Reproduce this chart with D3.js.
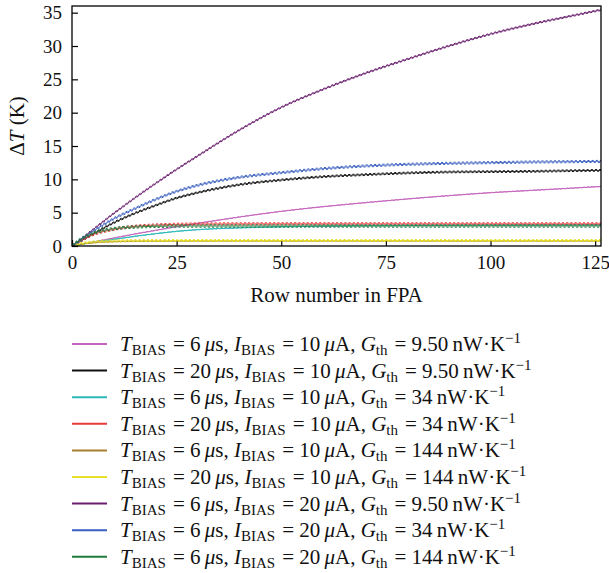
<!DOCTYPE html>
<html>
<head>
<meta charset="utf-8">
<script src="https://cdn.jsdelivr.net/npm/d3@7/dist/d3.min.js"></script>
<style>
  html, body { margin: 0; padding: 0; background: #fff; }
  svg { display: block; }
</style>
</head>
<body>
<svg id="chart" width="609" height="573"></svg>
<script>
// Row positions at which each ΔT curve is sampled
const rows = [0, 2, 5, 10, 15, 20, 25, 30, 40, 50, 60, 70, 80, 90, 100, 110, 120, 127];

// ΔT (K) per series, one entry per row above
const dtPink   = [0, 0.25, 0.6, 1.2, 1.8, 2.35, 2.9, 3.4, 4.35, 5.2, 5.9, 6.5, 7.05, 7.55, 8.0, 8.35, 8.7, 8.95];
const dtBlack  = [0, 0.7, 1.8, 3.5, 4.9, 6.1, 7.2, 8.0, 9.2, 9.9, 10.4, 10.7, 10.95, 11.1, 11.15, 11.2, 11.3, 11.35];
const dtCyan   = [0, 0.22, 0.55, 1.0, 1.45, 1.85, 2.2, 2.45, 2.72, 2.88, 2.98, 3.04, 3.08, 3.1, 3.12, 3.14, 3.15, 3.16];
const dtRed    = [0, 0.8, 1.7, 2.5, 2.95, 3.15, 3.25, 3.3, 3.32, 3.33, 3.33, 3.33, 3.33, 3.33, 3.33, 3.33, 3.33, 3.33];
const dtBrown  = [0, 0.25, 0.48, 0.65, 0.71, 0.73, 0.74, 0.75, 0.75, 0.75, 0.75, 0.75, 0.75, 0.75, 0.75, 0.75, 0.75, 0.75];
const dtYellow = [0, 0.35, 0.6, 0.76, 0.8, 0.82, 0.82, 0.82, 0.82, 0.82, 0.82, 0.82, 0.82, 0.82, 0.82, 0.82, 0.82, 0.82];
const dtPurple = [0, 0.95, 2.45, 4.9, 7.2, 9.4, 11.5, 13.5, 17.4, 20.8, 23.5, 25.9, 28.0, 30.0, 31.8, 33.3, 34.6, 35.5];
const dtBlue   = [0, 0.9, 2.2, 4.1, 5.6, 7.0, 8.2, 9.1, 10.3, 11.0, 11.6, 12.0, 12.25, 12.4, 12.5, 12.6, 12.65, 12.7];
const dtGreen  = [0, 1.0, 1.9, 2.6, 2.85, 2.95, 3.0, 3.0, 3.0, 3.0, 3.0, 3.0, 3.0, 3.0, 3.0, 3.0, 3.0, 3.0];

// Row-to-row heating/cooling swing (K, peak to peak) of each series
const ripple = [0.06, 0.25, 0.06, 0.32, 0.08, 0.28, 0.22, 0.3, 0.36];

// Legend parameters
const tBias = [6, 20, 6, 20, 6, 20, 6, 6, 6];
const iBias = [10, 10, 10, 10, 10, 10, 20, 20, 20];
const gTh   = ["9.50", "9.50", "34", "34", "144", "144", "9.50", "34", "144"];

const colors = ["#c465bd", "#111111", "#2bb8b8", "#e83a3a", "#a8802e", "#e6e02a", "#6a1f6e", "#3a5fc0", "#1f7b3b"];
const seriesValues = [dtPink, dtBlack, dtCyan, dtRed, dtBrown, dtYellow, dtPurple, dtBlue, dtGreen];

const xTicks = [0, 25, 50, 75, 100, 125];
const yTicks = [0, 5, 10, 15, 20, 25, 30, 35];

// Pick the first serif face that is actually installed
function pickFont(candidates) {
  const ctx = document.createElement("canvas").getContext("2d");
  const probe = "mmmmmmmmmmlliWWQ0123456789";
  const widthOf = f => { ctx.font = `40px ${f}`; return ctx.measureText(probe).width; };
  const baseMono = widthOf("monospace"), baseSans = widthOf("sans-serif");
  for (const c of candidates) {
    const q = `"${c}"`;
    if (widthOf(`${q}, monospace`) !== baseMono || widthOf(`${q}, sans-serif`) !== baseSans) return q;
  }
  return "serif";
}
const FONT = pickFont(["Liberation Serif", "Times New Roman", "Tinos", "DejaVu Serif", "Noto Serif", "FreeSerif"]);

const svg = d3.select("#chart").style("font-family", FONT);
const plot = { left: 72, right: 601, top: 6, bottom: 246 };

const x = d3.scaleLinear().domain([0, 126.4]).range([plot.left, plot.right]);
const y = d3.scaleLinear().domain([0, 36]).range([plot.bottom, plot.top]);

// Axes with inward ticks
const xAxis = svg.append("g")
  .attr("transform", `translate(0,${plot.bottom})`)
  .call(d3.axisBottom(x).tickValues(xTicks).tickSize(-6).tickPadding(10).tickFormat(d3.format("d")));
const yAxis = svg.append("g")
  .attr("transform", `translate(${plot.left},0)`)
  .call(d3.axisLeft(y).tickValues(yTicks).tickSize(-6).tickPadding(10).tickFormat(d3.format("d")));

[xAxis, yAxis].forEach(g => {
  g.attr("font-family", null).attr("font-size", null);
  g.select(".domain").remove();
  g.selectAll(".tick line").attr("stroke", "#000").attr("stroke-width", 1.2);
  g.selectAll(".tick text")
    .style("font-family", FONT)
    .attr("font-size", 19)
    .attr("fill", "#111");
});

// Curves
svg.append("clipPath").attr("id", "plotClip")
  .append("rect")
  .attr("x", plot.left).attr("y", plot.top - 2)
  .attr("width", plot.right - plot.left).attr("height", plot.bottom - plot.top + 2);

const line = d3.line()
  .x(d => x(d[0]))
  .y(d => y(d[1]))
  .curve(d3.curveMonotoneX);

const period = x(1) - x(0); // one row in pixels
const curves = svg.append("g").attr("clip-path", "url(#plotClip)");

seriesValues.forEach((vals, i) => {
  const pts = rows.map((r, k) => [r, vals[k]]);
  const d = line(pts);
  const swing = (y(0) - y(ripple[i])) / 2;
  const g = curves.append("g");
  g.append("path")
    .attr("d", d)
    .attr("fill", "none")
    .attr("stroke", colors[i])
    .attr("stroke-width", 0.9);
  // upper and lower halves of each row's swing
  [-1, 1].forEach((s, j) => {
    g.append("path")
      .attr("d", d)
      .attr("transform", `translate(0,${s * swing})`)
      .attr("fill", "none")
      .attr("stroke", colors[i])
      .attr("stroke-width", 1)
      .attr("stroke-dasharray", `${period / 2} ${period / 2}`)
      .attr("stroke-dashoffset", j * period / 2);
  });
});

// Frame
svg.append("rect")
  .attr("x", plot.left).attr("y", plot.top)
  .attr("width", plot.right - plot.left).attr("height", plot.bottom - plot.top)
  .attr("fill", "none").attr("stroke", "#000").attr("stroke-width", 1.3);

// Axis titles
svg.append("text")
  .attr("x", (plot.left + plot.right) / 2).attr("y", 302)
  .attr("text-anchor", "middle")
  .attr("font-size", 21)
  .attr("fill", "#111")
  .text("Row number in FPA");

const yTitle = svg.append("text")
  .attr("transform", `translate(24,${(plot.top + plot.bottom) / 2}) rotate(-90)`)
  .attr("text-anchor", "middle")
  .attr("font-size", 21)
  .attr("fill", "#111");
yTitle.append("tspan").text("Δ");
yTitle.append("tspan").attr("font-style", "italic").text("T");
yTitle.append("tspan").text(" (K)");

// Legend
const legendTop = 344, legendStep = 26.6;
const legend = svg.append("g");
colors.forEach((c, i) => {
  const ly = legendTop + i * legendStep;
  legend.append("line")
    .attr("x1", 72).attr("x2", 107)
    .attr("y1", ly).attr("y2", ly)
    .attr("stroke", c).attr("stroke-width", 2);

  const t = legend.append("text")
    .attr("x", 120).attr("y", ly + 7)
    .attr("font-size", 21)
    .attr("fill", "#111");
  const sub = (txt) => {
    t.append("tspan").attr("font-size", 15).attr("dy", 4).text(txt);
    t.append("tspan").attr("dy", -4).text("\u200A");
  };
  t.append("tspan").attr("font-style", "italic").text("T");
  sub("BIAS");
  t.append("tspan").text(` = ${tBias[i]}\u2009`);
  t.append("tspan").attr("font-style", "italic").text("μ");
  t.append("tspan").text("s, ");
  t.append("tspan").attr("font-style", "italic").text("I");
  sub("BIAS");
  t.append("tspan").text(` = ${iBias[i]}\u2009`);
  t.append("tspan").attr("font-style", "italic").text("μ");
  t.append("tspan").text("A, ");
  t.append("tspan").attr("font-style", "italic").text("G");
  sub("th");
  t.append("tspan").text(` = ${gTh[i]}\u2009nW·K`);
  t.append("tspan").attr("font-size", 15).attr("dy", -8).text("−1");
});
</script>
</body>
</html>
